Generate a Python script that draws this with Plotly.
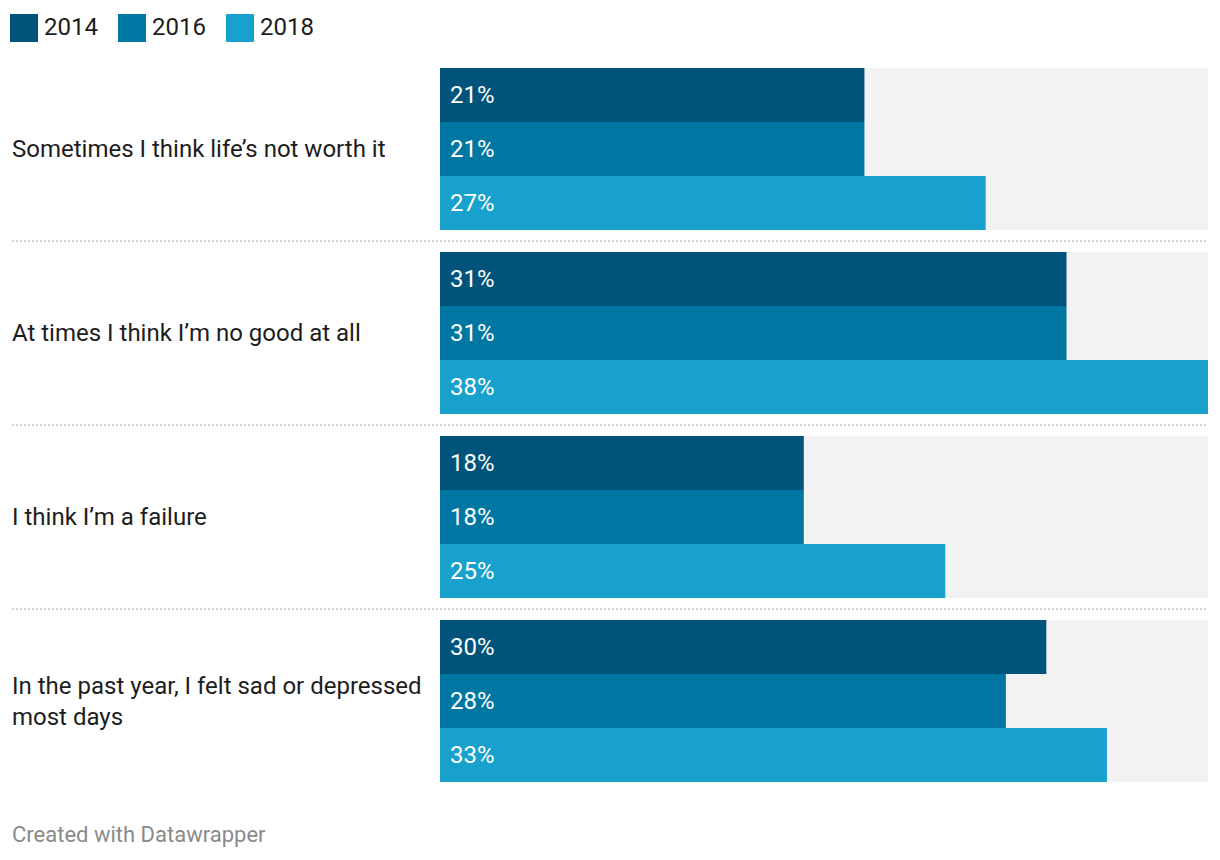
import plotly.graph_objects as go

categories = [
    "Sometimes I think life’s not worth it",
    "At times I think I’m no good at all",
    "I think I’m a failure",
    "In the past year, I felt sad or depressed<br>most days",
]
years = ["2014", "2016", "2018"]
values_2014 = [21, 31, 18, 30]
values_2016 = [21, 31, 18, 28]
values_2018 = [27, 38, 25, 33]
colors = ["#00547b", "#0077a2", "#18a1cd"]

series = [values_2014, values_2016, values_2018]
max_val = max(max(s) for s in series)

W, H = 1220, 860
L, R, T, B = 440, 12, 68, 78
plot_w = W - L - R
plot_h = H - T - B
pitch = 184.0
bar_h = 54.0
group_h = bar_h * 3

def px_x(px):
    return (px - L) / plot_w

def px_y(py):
    return (H - B - py) / plot_h

n = len(categories)
ypos = list(range(n))

fig = go.Figure()
# background bars
fig.add_trace(go.Bar(
    y=ypos, x=[max_val] * n, orientation="h",
    width=group_h / pitch, offset=-group_h / 2 / pitch,
    marker=dict(color="#f2f2f2", line=dict(width=0)),
    hoverinfo="skip", showlegend=False,
))
for k, (yr, vals, col) in enumerate(zip(years, series, colors)):
    off = (-group_h / 2 + k * bar_h) / pitch
    fig.add_trace(go.Bar(
        y=ypos, x=vals, orientation="h", name=yr,
        width=bar_h / pitch, offset=off,
        marker=dict(color=col, line=dict(width=0)),
        showlegend=False,
    ))
    for i, v in enumerate(vals):
        fig.add_annotation(
            x=0, y=i + off + bar_h / 2 / pitch, xref="x", yref="y",
            text=f"{v}%", showarrow=False, xanchor="left", yanchor="middle",
            xshift=8, font=dict(family="Roboto", size=24, color="white"),
        )

# category labels
for i, c in enumerate(categories):
    fig.add_annotation(
        x=px_x(10), y=i, xref="paper", yref="y", text=c, showarrow=False,
        xanchor="left", yanchor="middle", align="left",
        font=dict(family="Roboto", size=24, color="#1d1d1d"),
    )

# separators
for i in range(n - 1):
    fig.add_shape(
        type="line", xref="paper", yref="y",
        x0=px_x(12), x1=px_x(1208), y0=i + 0.5, y1=i + 0.5,
        line=dict(color="#d2d2d2", width=2, dash="2px,2px"),
    )

# legend
lx = [10, 118, 226]
for yr, col, x0 in zip(years, colors, lx):
    fig.add_shape(
        type="rect", xref="paper", yref="paper",
        x0=px_x(x0), x1=px_x(x0 + 28), y0=px_y(42), y1=px_y(14),
        fillcolor=col, line=dict(width=0),
    )
    fig.add_annotation(
        x=px_x(x0 + 32), y=px_y(27), xref="paper", yref="paper", text=yr,
        showarrow=False, xanchor="left", yanchor="middle",
        font=dict(family="Roboto", size=24, color="#1d1d1d"),
    )

fig.add_annotation(
    x=px_x(10), y=px_y(834), xref="paper", yref="paper",
    text="Created with Datawrapper", showarrow=False,
    xanchor="left", yanchor="middle",
    font=dict(family="Roboto", size=22, color="#8a8a8a"),
)

fig.update_layout(
    width=W, height=H, margin=dict(l=L, r=R, t=T, b=B),
    barmode="overlay", paper_bgcolor="white", plot_bgcolor="white",
    xaxis=dict(range=[0, max_val], visible=False, fixedrange=True),
    yaxis=dict(range=[n - 1 + group_h / 2 / pitch, -group_h / 2 / pitch],
               visible=False, fixedrange=True),
    showlegend=False,
)

fig.write_html("out.html")
